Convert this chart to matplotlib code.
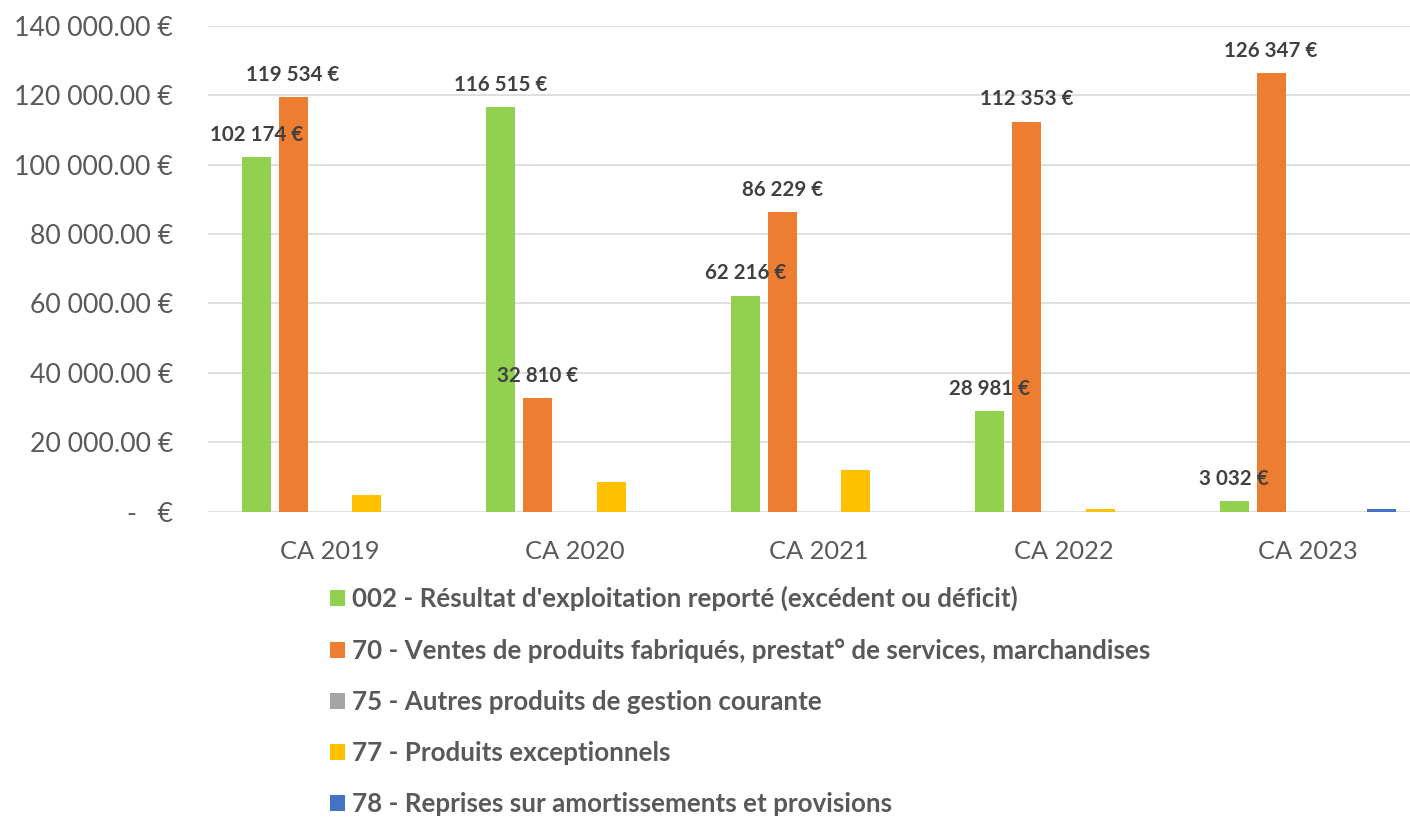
import matplotlib
matplotlib.use("Agg")
from matplotlib import pyplot as plt
from matplotlib.patches import Patch
from matplotlib.ticker import FuncFormatter, MultipleLocator
import numpy as np

categories = ["CA 2019", "CA 2020", "CA 2021", "CA 2022", "CA 2023"]

series_names = [
    "002 - Résultat d'exploitation reporté (excédent ou déficit)",
    "70 - Ventes de produits fabriqués, prestat° de services, marchandises",
    "75 - Autres produits de gestion courante",
    "77 - Produits exceptionnels",
    "78 - Reprises sur amortissements et provisions",
]
resultat_002 = [102174, 116515, 62216, 28981, 3032]
ventes_70 = [119534, 32810, 86229, 112353, 126347]
autres_75 = [0, 0, 0, 0, 0]
exceptionnels_77 = [4800, 8600, 12100, 850, 0]
reprises_78 = [0, 0, 0, 0, 700]

series = [resultat_002, ventes_70, autres_75, exceptionnels_77, reprises_78]
colors = ["#92D050", "#ED7D31", "#A5A5A5", "#FFC000", "#4472C4"]
labelled = [True, True, False, False, False]

plt.rcParams["font.family"] = ["Lato", "DejaVu Sans"]

fig = plt.figure(figsize=(14.1, 8.21), dpi=100)
# plot area runs a bit past the right edge of the picture, like the original
ax = fig.add_axes([207.75 / 1410, 309.3 / 821, 1222.5 / 1410, 486.0 / 821])

x = np.arange(len(categories))
step = 0.151
width = 0.119
for i, (vals, col) in enumerate(zip(series, colors)):
    pos = x + (i - 2) * step
    ax.bar(pos, vals, width=width, color=col, zorder=3)
    if labelled[i]:
        for px, v in zip(pos, vals):
            ax.annotate(f"{v:,.0f} €".replace(",", " "), (px, v),
                        xytext=(0, 16.0), textcoords="offset points",
                        ha="center", va="center", fontsize=14.8,
                        fontweight="bold", color="#404040", zorder=4)

ax.set_xlim(-0.5, len(categories) - 0.5)
ax.set_ylim(0, 140000)
ax.yaxis.set_major_locator(MultipleLocator(20000))
ax.yaxis.set_major_formatter(FuncFormatter(
    lambda v, _: f"{v:,.2f} €".replace(",", " ") if v else "-   €"))
ax.set_xticks(x, categories)
ax.grid(axis="y", color="#D9D9D9", linewidth=1.2, zorder=0)
for s in ax.spines.values():
    s.set_visible(False)
ax.tick_params(axis="y", length=0, pad=25, labelsize=19.2, labelcolor="#595959")
ax.tick_params(axis="x", length=0, pad=20.5, labelsize=18.3, labelcolor="#595959")

handles = [Patch(facecolor=c, label=n) for c, n in zip(colors, series_names)]
fig.legend(handles=handles, loc="upper left", bbox_to_anchor=(330 / 1410, 1 - 586 / 821),
           frameon=False, prop={"weight": "bold", "size": 18.7},
           labelcolor="#595959", handlelength=0.56, handleheight=0.56,
           handletextpad=0.3, labelspacing=1.04, borderpad=0, borderaxespad=0)

fig.savefig("out.png", dpi=100)
